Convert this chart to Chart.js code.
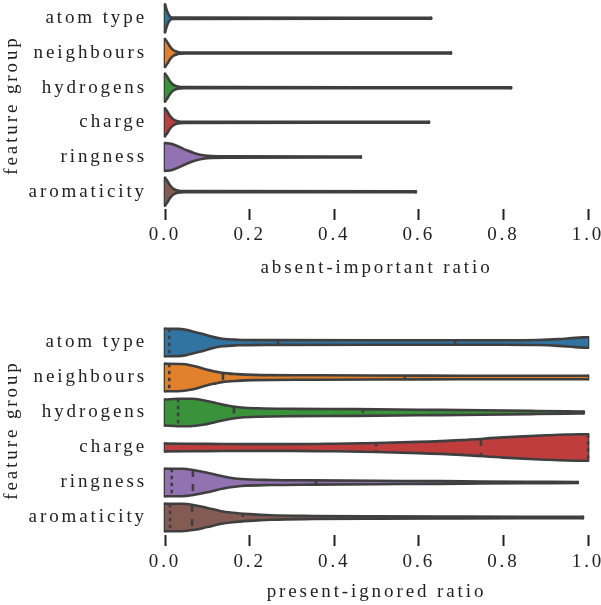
<!DOCTYPE html>
<html>
<head>
<meta charset="utf-8">
<script src="https://cdn.jsdelivr.net/npm/chart.js@4.4.1/dist/chart.umd.min.js"></script>
<style>
  html, body { margin: 0; padding: 0; background: #fff; }
  #wrap { position: relative; width: 601px; height: 605px; }
  canvas { position: absolute; left: 0; }
</style>
</head>
<body>
<div id="wrap">
  <canvas id="absentChart" width="601" height="300" style="top:0"></canvas>
  <canvas id="presentChart" width="601" height="305" style="top:300px"></canvas>
</div>
<script>
// feature groups, top to bottom
const groups = ['atom type', 'neighbours', 'hydrogens', 'charge', 'ringness', 'aromaticity'];
const colors = ['#3274a1', '#e1812c', '#3a923a', '#c03d3e', '#9372b2', '#845b53'];
const xTicks = [0, 0.2, 0.4, 0.6, 0.8, 1.0];

// absent-important ratio: [ratio, relative density]
const absAtomType = [[0, 1.0], [0.004, 0.6], [0.008, 0.3], [0.012, 0.12], [0.018, 0.05], [0.629, 0.035]];
const absNeighbours = [[0, 1.0], [0.006, 0.75], [0.012, 0.45], [0.02, 0.2], [0.03, 0.08], [0.045, 0.04], [0.676, 0.035]];
const absHydrogens = [[0, 1.0], [0.006, 0.75], [0.012, 0.45], [0.02, 0.2], [0.03, 0.08], [0.045, 0.04], [0.818, 0.035]];
const absCharge = [[0, 1.0], [0.006, 0.75], [0.012, 0.45], [0.02, 0.2], [0.03, 0.08], [0.045, 0.04], [0.624, 0.035]];
const absRingness = [[0, 1.0], [0.015, 0.95], [0.03, 0.78], [0.05, 0.5], [0.07, 0.27], [0.09, 0.12], [0.11, 0.06], [0.15, 0.045], [0.463, 0.035]];
const absAromaticity = [[0, 1.0], [0.006, 0.75], [0.012, 0.45], [0.02, 0.2], [0.03, 0.08], [0.045, 0.04], [0.593, 0.035]];

// present-ignored ratio: [ratio, relative density]
const presAtomType = [[0, 0.98], [0.03, 0.97], [0.05, 0.9], [0.07, 0.75], [0.09, 0.6], [0.11, 0.42], [0.135, 0.27], [0.17, 0.2], [0.25, 0.17], [0.5, 0.16], [0.8, 0.16], [0.88, 0.18], [0.93, 0.24], [0.97, 0.33], [1.0, 0.38]];
const presNeighbours = [[0, 0.98], [0.04, 0.96], [0.06, 0.88], [0.08, 0.73], [0.1, 0.55], [0.12, 0.42], [0.135, 0.33], [0.17, 0.24], [0.21, 0.19], [0.35, 0.16], [0.5, 0.14], [0.7, 0.13], [0.85, 0.12], [1.0, 0.13]];
const presHydrogens = [[0, 0.93], [0.03, 0.98], [0.06, 0.98], [0.09, 0.88], [0.12, 0.68], [0.15, 0.48], [0.18, 0.36], [0.22, 0.3], [0.3, 0.26], [0.45, 0.24], [0.6, 0.2], [0.75, 0.16], [0.88, 0.11], [0.95, 0.08], [0.99, 0.06]];
const presCharge = [[0, 0.28], [0.1, 0.26], [0.2, 0.24], [0.3, 0.24], [0.4, 0.27], [0.5, 0.32], [0.6, 0.4], [0.7, 0.53], [0.8, 0.72], [0.9, 0.87], [0.95, 0.93], [1.0, 0.95]];
const presRingness = [[0, 0.98], [0.04, 0.98], [0.07, 0.88], [0.1, 0.7], [0.12, 0.55], [0.15, 0.36], [0.18, 0.25], [0.25, 0.18], [0.35, 0.15], [0.5, 0.12], [0.65, 0.1], [0.75, 0.07], [0.85, 0.05], [0.976, 0.04]];
const presAromaticity = [[0, 0.98], [0.04, 0.98], [0.07, 0.88], [0.1, 0.68], [0.13, 0.47], [0.16, 0.34], [0.2, 0.24], [0.25, 0.16], [0.35, 0.11], [0.5, 0.08], [0.7, 0.06], [0.85, 0.05], [0.988, 0.045]];

// quartiles of present-ignored ratio: [q1, median, q3]
const presQ1 = [0.01, 0.01, 0.031, 0.499, 0.016, 0.012];
const presMedian = [0.267, 0.137, 0.163, 0.747, 0.066, 0.064];
const presQ3 = [0.686, 0.567, 0.468, 1.0, 0.357, 0.184];

const EDGE = '#3f3f3f';
const TEXT = '#222';
const HALF = 0.4;
const FONT = { family: "'Liberation Serif', 'Times New Roman', serif", size: 19 };
const LETTER_SPACING = '2.9px';

function densityAt(pts, x) {
    for (let k = 1; k < pts.length; k++) {
        if (x <= pts[k][0]) {
            const [x0, d0] = pts[k - 1], [x1, d1] = pts[k];
            return d0 + (d1 - d0) * (x - x0) / (x1 - x0);
        }
    }
    return pts[pts.length - 1][1];
}

function line(data, extra) {
    return Object.assign({
        data: data,
        showLine: true,
        pointRadius: 0,
        borderColor: EDGE,
        borderWidth: 2.6,
        borderJoinStyle: 'round',
        borderCapStyle: 'round',
        clip: false,
        fill: false,
        order: 1
    }, extra);
}

function violinDatasets(series, quart) {
    const sets = [];
    series.forEach((pts, i) => {
        sets.push(line(pts.map(([x, d]) => ({ x: x, y: i - HALF * d })), { cubicInterpolationMode: 'monotone' }));
        sets.push(line(pts.map(([x, d]) => ({ x: x, y: i + HALF * d })), {
            cubicInterpolationMode: 'monotone', fill: '-1', backgroundColor: colors[i]
        }));
        const first = pts[0], last = pts[pts.length - 1];
        sets.push(line([{ x: first[0], y: i - HALF * first[1] }, { x: first[0], y: i + HALF * first[1] }]));
        sets.push(line([{ x: last[0], y: i - HALF * last[1] }, { x: last[0], y: i + HALF * last[1] }]));
        if (quart) {
            quart.forEach(([vals, dash]) => {
                const q = vals[i];
                const d = densityAt(pts, q);
                sets.push(line([{ x: q, y: i - HALF * d }, { x: q, y: i + HALF * d }], {
                    borderDash: dash, borderCapStyle: 'butt', order: 0
                }));
            });
        }
    });
    return sets;
}

const spacingPlugin = {
    id: 'spacing',
    beforeUpdate(chart) { chart.ctx.letterSpacing = LETTER_SPACING; },
    beforeLayout(chart) { chart.ctx.letterSpacing = LETTER_SPACING; },
    beforeDraw(chart) { chart.ctx.letterSpacing = LETTER_SPACING; }
};

function makeChart(id, series, quart, title, layout) {
    return new Chart(document.getElementById(id), {
        type: 'scatter',
        data: { datasets: violinDatasets(series, quart) },
        plugins: [spacingPlugin],
        options: {
            responsive: false,
            animation: false,
            layout: { padding: layout.padding },
            plugins: { legend: { display: false }, tooltip: { enabled: false } },
            scales: {
                x: {
                    type: 'linear',
                    min: 0,
                    max: 1,
                    afterBuildTicks: (s) => { s.ticks = xTicks.map(v => ({ value: v })); },
                    afterFit: (s) => { s.height = layout.xHeight; s.paddingLeft = 0; s.paddingRight = 0; },
                    ticks: { callback: (v) => v.toFixed(1), font: FONT, color: TEXT, padding: layout.tickPad, maxRotation: 0 },
                    grid: { drawOnChartArea: false, drawTicks: true, tickLength: 11, tickColor: '#222', tickWidth: 2 },
                    border: { display: false },
                    title: { display: true, text: title, font: FONT, color: TEXT, padding: { top: 0, bottom: layout.titlePad } }
                },
                y: {
                    type: 'linear',
                    reverse: true,
                    min: -0.5,
                    max: 5.5,
                    afterBuildTicks: (s) => { s.ticks = groups.map((_, i) => ({ value: i })); },
                    afterFit: (s) => { s.width = 165; s.paddingTop = 0; s.paddingBottom = 0; },
                    ticks: { callback: (v) => groups[v], font: FONT, color: TEXT, padding: 10 },
                    grid: { display: false },
                    border: { display: false },
                    title: { display: true, text: 'feature group', font: FONT, color: TEXT, padding: { top: 1, bottom: 0 } }
                }
            }
        }
    });
}

makeChart('absentChart',
    [absAtomType, absNeighbours, absHydrogens, absCharge, absRingness, absAromaticity],
    null, 'absent-important ratio',
    { padding: { top: 1, right: 13, left: 0, bottom: 0 }, xHeight: 91, tickPad: 4, titlePad: 21 });

makeChart('presentChart',
    [presAtomType, presNeighbours, presHydrogens, presCharge, presRingness, presAromaticity],
    [[presQ1, [3.5, 3.5]], [presMedian, [7, 7]], [presQ3, [3.5, 3.5]]],
    'present-ignored ratio',
    { padding: { top: 25, right: 13, left: 0, bottom: 0 }, xHeight: 70, tickPad: 5, titlePad: 2 });
</script>
</body>
</html>
